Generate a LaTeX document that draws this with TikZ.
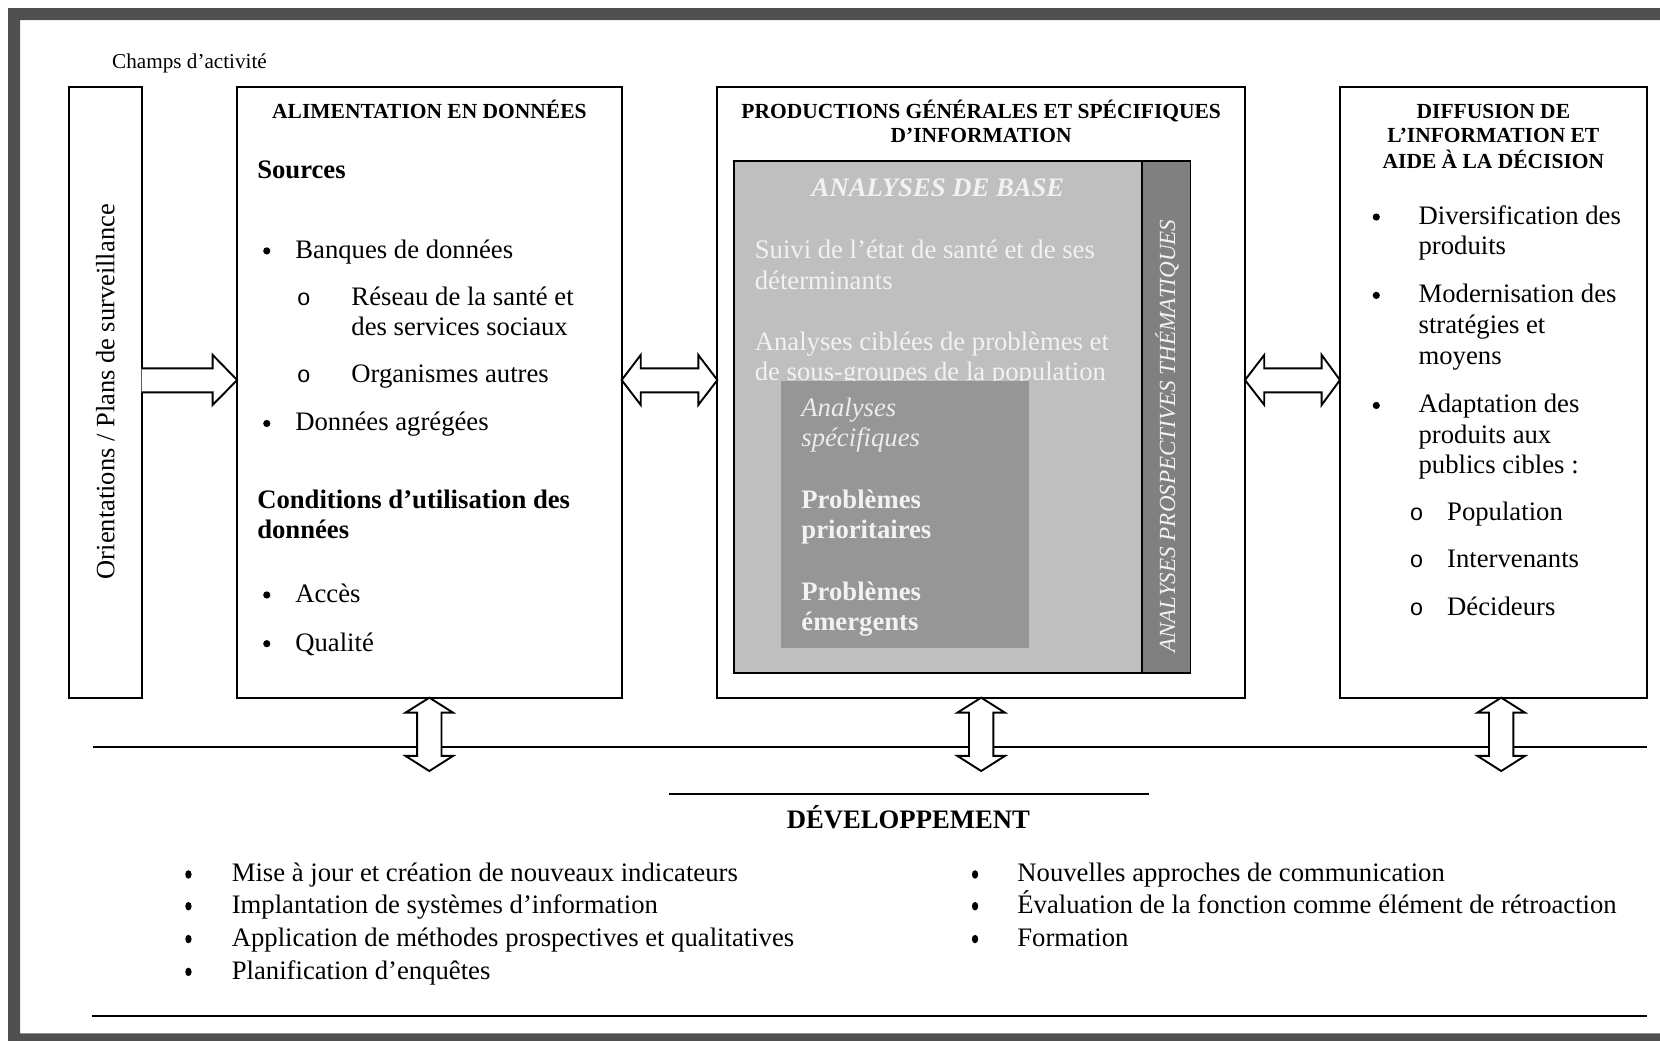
\documentclass[tikz,border=0pt]{standalone}
\usepackage{fontspec}
\setmainfont{Liberation Serif}
\newfontfamily\monof{Liberation Mono}
\usetikzlibrary{fit,shapes.geometric}
\definecolor{framegray}{RGB}{80,80,80}
\definecolor{lightfill}{RGB}{191,191,191}
\definecolor{colfill}{RGB}{128,128,128}
\definecolor{darkfill}{RGB}{150,150,150}
\definecolor{paletxt}{RGB}{242,242,242}
\definecolor{innertxt}{RGB}{236,236,236}
\newcommand\bodyfnt{\fontsize{12.6}{15}\selectfont}
\begin{document}
\begin{tikzpicture}[x=0.5pt,y=-0.5pt,
  box/.style={draw=black, line width=0.85pt, inner sep=0pt, outer sep=0pt, fill=white},
  greybox/.style={draw=black, line width=0.85pt, inner sep=0pt, outer sep=0pt},
  txt/.style={inner sep=0pt, outer sep=0pt, anchor=base west, font=\bodyfnt},
  ctxt/.style={txt, anchor=base},
  hdr/.style={inner sep=0pt, outer sep=0pt, anchor=base, font=\fontsize{10.15}{12}\selectfont\bfseries},
  bul/.style={circle, fill=black, inner sep=0pt, outer sep=0pt, minimum size=3.4pt},
  sbul/.style={ellipse, fill=black, inner sep=0pt, outer sep=0pt, minimum width=3pt, minimum height=4pt},
  sub/.style={inner sep=0pt, outer sep=0pt, anchor=base, font=\fontsize{11}{14}\selectfont\monof},
  barrow/.style={draw=black, fill=white, line width=0.9pt, line join=miter},
  hline/.style={draw=black, line width=1pt}
]
\useasboundingbox (0,0) rectangle (1568,983);
\begin{scope}
  \clip (0,0) rectangle (1568,983);
  \fill[framegray, even odd rule] (7.6,7.6) rectangle (1600,1010) (18.9,18.9) rectangle (1590,976);
\end{scope}

% label
\node[txt, font=\fontsize{10}{12}\selectfont] (champs) at (106,65) {Champs d’activité};

% main boxes
\node[box, fit={(64.8,82.3) (133.8,659)}] (lbox) {};
\node[box, fit={(224,82.3) (587.2,659)}] (alim) {};
\node[box, fit={(677.6,82.3) (1176,659)}] (prod) {};
\node[box, fit={(1265.7,82.3) (1555.6,659)}] (diff) {};

% left vertical text
\node[inner sep=0pt, rotate=90, font=\fontsize{12.5}{14}\selectfont] (orient) at (99.5,370) {Orientations / Plans de surveillance};

% ALIMENTATION
\node[hdr] (alimh) at (405.6,112) {ALIMENTATION EN DONNÉES};
\node[txt, font=\bodyfnt\bfseries] (sources) at (243,169) {Sources};
\node[bul] (b1) at (252,237) {};
\node[txt] (t1) at (279,244) {Banques de données};
\node[sub] (s1) at (287,289) {o};
\node[txt] (t2) at (332,289) {Réseau de la santé et};
\node[txt] (t3) at (332,317) {des services sociaux};
\node[sub] (s2) at (287,361) {o};
\node[txt] (t4) at (332,361) {Organismes autres};
\node[bul] (b2) at (252,400) {};
\node[txt] (t5) at (279,407) {Données agrégées};
\node[txt, font=\bodyfnt\bfseries] (cond1) at (243,480) {Conditions d’utilisation des};
\node[txt, font=\bodyfnt\bfseries] (cond2) at (243,509) {données};
\node[bul] (b3) at (252,562) {};
\node[txt] (t6) at (279,569) {Accès};
\node[bul] (b4) at (252,608) {};
\node[txt] (t7) at (279,615) {Qualité};

% PRODUCTIONS
\node[hdr] (prodh1) at (926.8,112) {PRODUCTIONS GÉNÉRALES ET SPÉCIFIQUES};
\node[hdr] (prodh2) at (926.8,135) {D’INFORMATION};
\node[greybox, fill=lightfill, fit={(693.5,152) (1079,636)}] (base) {};
\node[greybox, fill=colfill, fit={(1079,152) (1124.5,636)}] (col) {};
\node[ctxt, text=paletxt, font=\bodyfnt\bfseries\itshape] (baseh) at (886,186) {ANALYSES DE BASE};
\node[txt, text=paletxt] (p1) at (713,244) {Suivi de l’état de santé et de ses};
\node[txt, text=paletxt] (p2) at (713,273) {déterminants};
\node[txt, text=paletxt] (p3) at (713,331) {Analyses ciblées de problèmes et};
\node[txt, text=paletxt] (p4) at (713,359) {de sous-groupes de la population};
\node[inner sep=0pt, outer sep=0pt, fill=darkfill, fit={(738,360) (972,612)}] (spec) {};
\node[txt, text=innertxt, font=\bodyfnt\itshape] (q1) at (757,393) {Analyses};
\node[txt, text=innertxt, font=\bodyfnt\itshape] (q2) at (757,422) {spécifiques};
\node[txt, text=paletxt, font=\bodyfnt\bfseries] (q3) at (757,480) {Problèmes};
\node[txt, text=paletxt, font=\bodyfnt\bfseries] (q4) at (757,509) {prioritaires};
\node[txt, text=paletxt, font=\bodyfnt\bfseries] (q5) at (757,567) {Problèmes};
\node[txt, text=paletxt, font=\bodyfnt\bfseries] (q6) at (757,596) {émergents};
\node[inner sep=0pt, rotate=90, text=paletxt, font=\fontsize{10.9}{13}\selectfont\itshape] (colt) at (1102.5,412) {ANALYSES PROSPECTIVES THÉMATIQUES};

% DIFFUSION
\node[hdr] (diffh1) at (1410.6,112) {DIFFUSION DE};
\node[hdr] (diffh2) at (1410.6,135) {L’INFORMATION ET};
\node[hdr] (diffh3) at (1410.6,159) {AIDE À LA DÉCISION};
\node[bul] (db1) at (1300,205) {};
\node[txt] (d1) at (1340,212) {Diversification des};
\node[txt] (d2) at (1340,240) {produits};
\node[bul] (db2) at (1300,279) {};
\node[txt] (d3) at (1340,286) {Modernisation des};
\node[txt] (d4) at (1340,315) {stratégies et};
\node[txt] (d5) at (1340,344) {moyens};
\node[bul] (db3) at (1300,383) {};
\node[txt] (d6) at (1340,390) {Adaptation des};
\node[txt] (d7) at (1340,419) {produits aux};
\node[txt] (d8) at (1340,447) {publics cibles :};
\node[sub] (ds1) at (1338,492) {o};
\node[txt] (d9) at (1367,492) {Population};
\node[sub] (ds2) at (1338,536) {o};
\node[txt] (d10) at (1367,536) {Intervenants};
\node[sub] (ds3) at (1338,581) {o};
\node[txt] (d11) at (1367,581) {Décideurs};

% horizontal block arrows
\draw[barrow] (lbox.east |- 0,348) -- (200.9,348) -- (200.9,335.3) -- (alim.west |- 0,359) -- (200.9,382.5) -- (200.9,370.6) -- (lbox.east |- 0,370.6);
\draw[barrow] (alim.east |- 0,359) -- (605.2,335.3) -- (605.2,348) -- (659.6,348) -- (659.6,335.3) -- (prod.west |- 0,359) -- (659.6,382.5) -- (659.6,370.6) -- (605.2,370.6) -- (605.2,382.5) -- cycle;
\draw[barrow] (prod.east |- 0,359) -- (1194.2,335.3) -- (1194.2,348) -- (1248.4,348) -- (1248.4,335.3) -- (diff.west |- 0,359) -- (1248.4,382.5) -- (1248.4,370.6) -- (1194.2,370.6) -- (1194.2,382.5) -- cycle;

% development line
\draw[hline] (88,705.3) -- (1555.6,705.3);

% vertical block arrows
\coordinate (v1) at (405.5,728.3);
\coordinate (v2) at (926.8,728.3);
\coordinate (v3) at (1418,728.3);
\draw[barrow] (alim.south) -- (428,673.2) -- (417,673.2) -- (417,714) -- (428,714) -- (v1) -- (383,714) -- (394,714) -- (394,673.2) -- (383,673.2) -- cycle;
\draw[barrow] (prod.south) -- (949.3,673.2) -- (938.3,673.2) -- (938.3,714) -- (949.3,714) -- (v2) -- (904.3,714) -- (915.3,714) -- (915.3,673.2) -- (904.3,673.2) -- cycle;
\draw[barrow] (diff.south -| v3) -- (1440.5,673.2) -- (1429.5,673.2) -- (1429.5,714) -- (1440.5,714) -- (v3) -- (1395.5,714) -- (1406.5,714) -- (1406.5,673.2) -- (1395.5,673.2) -- cycle;

% DEVELOPPEMENT
\draw[draw=black, line width=1.3pt] (632,750) -- (1085,750);
\node[ctxt, font=\bodyfnt\bfseries] (dev) at (858,783) {DÉVELOPPEMENT};
\node[sbul] (eb1) at (178,826) {};
\node[txt] (e1) at (219,833) {Mise à jour et création de nouveaux indicateurs};
\node[sbul] (eb2) at (178,856) {};
\node[txt] (e2) at (219,863) {Implantation de systèmes d’information};
\node[sbul] (eb3) at (178,887) {};
\node[txt] (e3) at (219,894) {Application de méthodes prospectives et qualitatives};
\node[sbul] (eb4) at (178,918) {};
\node[txt] (e4) at (219,925) {Planification d’enquêtes};
\node[sbul] (fb1) at (921,826) {};
\node[txt] (f1) at (961,833) {Nouvelles approches de communication};
\node[sbul] (fb2) at (921,856) {};
\node[txt] (f2) at (961,863) {Évaluation de la fonction comme élément de rétroaction};
\node[sbul] (fb3) at (921,887) {};
\node[txt] (f3) at (961,894) {Formation};

\draw[hline] (87,959.4) -- (1555.4,959.4);
\end{tikzpicture}
\end{document}
